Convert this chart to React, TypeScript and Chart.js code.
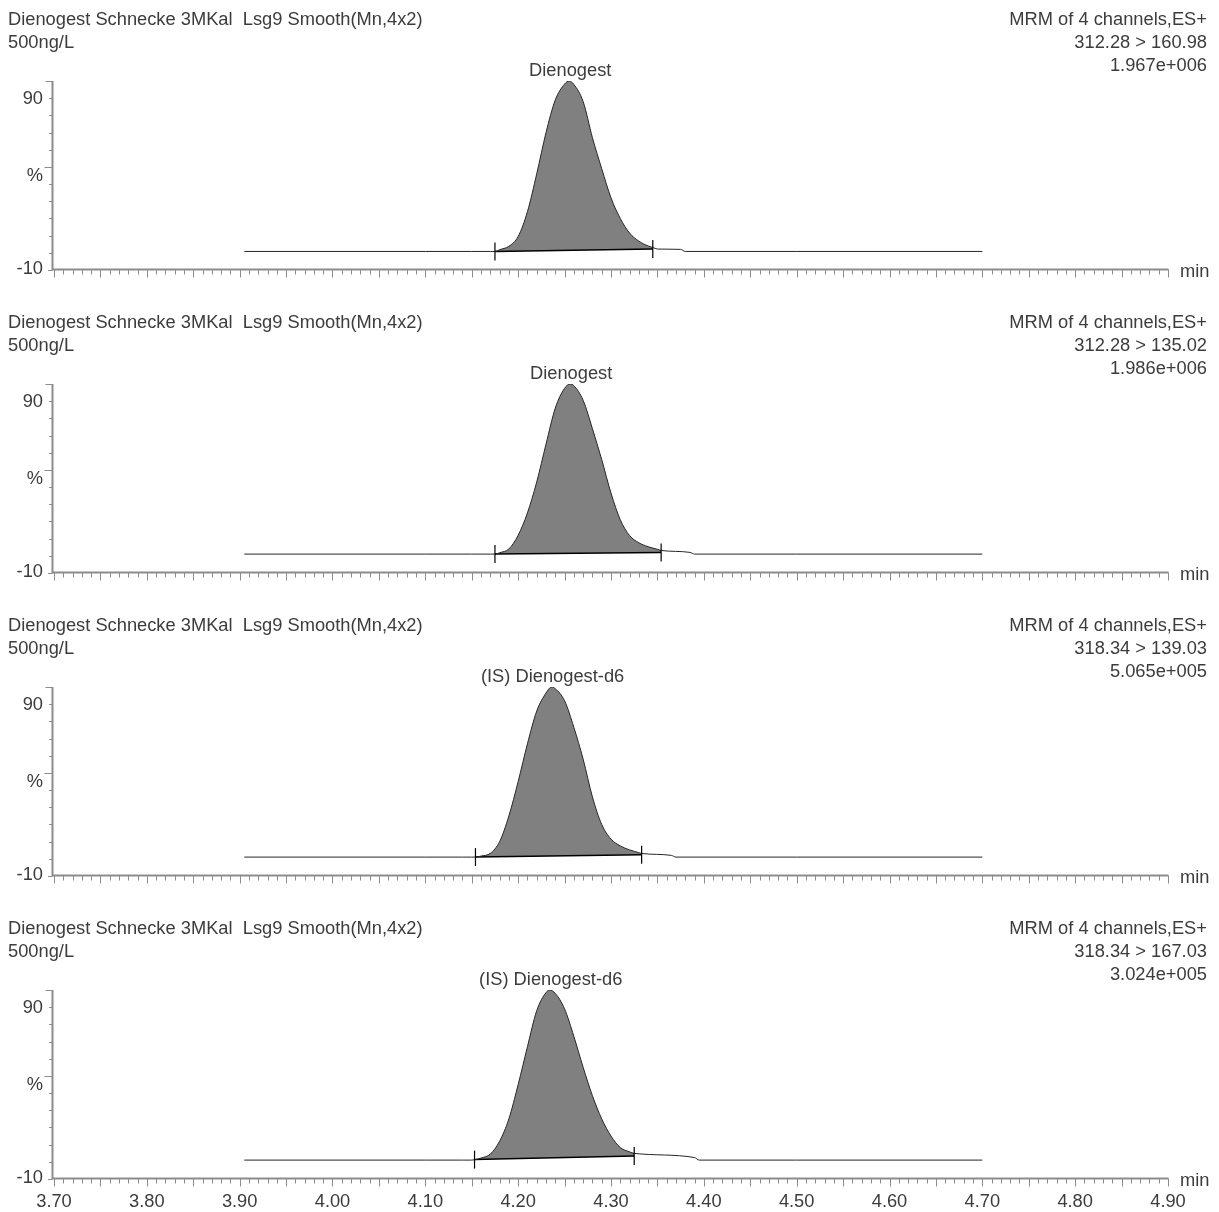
import React, { useEffect, useRef } from 'react';
import { Chart, registerables } from 'chart.js';

Chart.register(...registerables);

// ---------- data ----------
const TIME_MIN = 3.7;
const TIME_MAX = 4.9;
const Y_MIN = -10;
const Y_MAX = 100;

const xTickLabels = ['3.70', '3.80', '3.90', '4.00', '4.10', '4.20', '4.30', '4.40', '4.50', '4.60', '4.70', '4.80', '4.90'];
const yTickLabels = ['-10', '%', '90'];
const xUnitLabel = 'min';

const sampleLine1 = 'Dienogest Schnecke 3MKal  Lsg9 Smooth(Mn,4x2)';
const sampleLine2 = '500ng/L';
const channelTitle = 'MRM of 4 channels,ES+';
const transitions = ['312.28 > 160.98', '312.28 > 135.02', '318.34 > 139.03', '318.34 > 167.03'];
const intensities = ['1.967e+006', '1.986e+006', '5.065e+005', '3.024e+005'];
const peakNames = ['Dienogest', 'Dienogest', '(IS) Dienogest-d6', '(IS) Dienogest-d6'];

// retention time (min) / relative intensity (%)
const times1 = [3.905, 4.10, 4.15, 4.16, 4.17, 4.175, 4.18, 4.19, 4.20, 4.21, 4.22, 4.23, 4.24, 4.25, 4.255, 4.26, 4.27, 4.28, 4.29, 4.30, 4.31, 4.32, 4.33, 4.34, 4.345, 4.35, 4.375, 4.38, 4.50, 4.70];
const values1 = [0.8, 0.8, 0.8, 0.8, 0.8, 0.8, 1.8, 3.8, 9.5, 24, 46, 70, 89, 98.2, 100, 98, 88, 67, 49, 32, 20, 11.5, 6.8, 4.0, 3.1, 2.2, 2.0, 0.8, 0.8, 0.8];

const times2 = [3.905, 4.10, 4.15, 4.16, 4.17, 4.175, 4.18, 4.19, 4.20, 4.21, 4.22, 4.23, 4.24, 4.25, 4.256, 4.26, 4.27, 4.28, 4.29, 4.30, 4.31, 4.32, 4.33, 4.34, 4.35, 4.354, 4.385, 4.39, 4.50, 4.70];
const values2 = [1.0, 1.0, 1.0, 1.0, 1.0, 1.0, 1.8, 4.0, 12, 25, 43, 65, 86, 97.5, 100, 99, 90.5, 74, 56, 36.5, 21, 11.8, 7.6, 5.3, 3.8, 3.1, 2.0, 1.0, 1.0, 1.0];

const times3 = [3.905, 4.10, 4.14, 4.15, 4.154, 4.16, 4.17, 4.18, 4.19, 4.20, 4.21, 4.22, 4.23, 4.236, 4.24, 4.25, 4.26, 4.27, 4.28, 4.29, 4.30, 4.31, 4.32, 4.33, 4.333, 4.365, 4.37, 4.50, 4.70];
const values3 = [1.0, 1.0, 1.0, 1.0, 1.0, 1.6, 3.2, 10, 25, 45, 67, 86, 96.5, 100, 99, 92, 76.5, 58, 36, 20, 11.5, 7.5, 5.2, 3.6, 3.1, 2.0, 1.0, 1.0, 1.0];

const times4 = [3.905, 4.10, 4.14, 4.15, 4.153, 4.16, 4.17, 4.18, 4.19, 4.20, 4.21, 4.22, 4.23, 4.234, 4.24, 4.25, 4.26, 4.27, 4.28, 4.29, 4.30, 4.31, 4.32, 4.325, 4.39, 4.395, 4.50, 4.70];
const values4 = [1.0, 1.0, 1.0, 1.0, 1.2, 2.2, 4.5, 12, 25, 45, 67, 88, 98.5, 100, 98, 89, 73, 55, 38.5, 25, 15, 8.3, 5.8, 4.9, 2.5, 1.0, 1.0, 1.0];

// integration window (min) and integration-baseline levels (%)
const peakStart = [4.175, 4.175, 4.154, 4.153];
const peakEnd = [4.345, 4.354, 4.333, 4.325];
const baseStartLevel = [0.8, 1.0, 1.0, 1.3];
const baseEndLevel = [2.2, 2.0, 2.4, 3.4];

const TIMES = [times1, times2, times3, times4];
const VALUES = [values1, values2, values3, values4];

// ---------- styling ----------
const W = 1219;
const PANEL_H = 303;
const FONT = '18.3px "Liberation Sans", Arial, sans-serif';
const TEXT_COLOR = '#3c3c3c';
const AXIS_COLOR = '#8c8c8c';

const axesPlugin = {
  id: 'msAxes',
  afterDraw(chart: any, _args: any, opts: any) {
    const { ctx, chartArea, scales } = chart;
    const x = scales.x;
    const y = scales.y;
    const x0 = chartArea.left - 1.5;
    const yb = chartArea.bottom - 0.5;
    ctx.save();
    // axis lines
    ctx.strokeStyle = AXIS_COLOR;
    ctx.lineWidth = 2;
    ctx.beginPath();
    ctx.moveTo(x0, y.getPixelForValue(Y_MAX));
    ctx.lineTo(x0, yb + 1);
    ctx.moveTo(x0 - 1, yb);
    ctx.lineTo(chartArea.right + 0.5, yb);
    ctx.stroke();
    // x ticks
    ctx.lineWidth = 1;
    ctx.beginPath();
    const nx = Math.round((TIME_MAX - TIME_MIN) / 0.01);
    for (let i = 0; i <= nx; i++) {
      const v = TIME_MIN + i * 0.01;
      const px = Math.round(x.getPixelForValue(v)) + 0.5;
      const len = i % 5 === 0 ? 8 : 5;
      ctx.moveTo(px, yb);
      ctx.lineTo(px, yb + len);
    }
    // y ticks
    for (let v = Y_MIN; v <= Y_MAX; v += 10) {
      const py = Math.round(y.getPixelForValue(v)) + 0.5;
      const len = v === 100 ? 7 : v === 50 ? 8 : v === -10 ? 4.5 : 3.5;
      ctx.moveTo(x0, py);
      ctx.lineTo(x0 - len, py);
    }
    ctx.stroke();

    ctx.fillStyle = TEXT_COLOR;
    ctx.font = FONT;
    // y labels
    ctx.textAlign = 'right';
    ctx.textBaseline = 'middle';
    ctx.fillText(yTickLabels[0], 43, y.getPixelForValue(-10) - 1.5);
    ctx.fillText(yTickLabels[1], 43, y.getPixelForValue(45));
    ctx.fillText(yTickLabels[2], 43, y.getPixelForValue(90) + 1);
    // unit
    ctx.textAlign = 'left';
    ctx.textBaseline = 'alphabetic';
    ctx.fillText(xUnitLabel, chartArea.right + 12, yb + 7);
    // x tick labels (bottom panel only)
    if (opts.showLabels) {
      ctx.textAlign = 'center';
      xTickLabels.forEach((lab) => {
        ctx.fillText(lab, x.getPixelForValue(parseFloat(lab)), yb + 28);
      });
    }
    // peak label at apex
    const ds = chart.data.datasets[0].data;
    let best = ds[0];
    ds.forEach((p: any) => { if (p.y > best.y) best = p; });
    ctx.textAlign = 'center';
    ctx.fillText(opts.peakName, x.getPixelForValue(best.x) + 1, chartArea.top - 5);
    ctx.restore();
  },
};

function Panel({ idx }: { idx: number }) {
  const ref = useRef<HTMLCanvasElement | null>(null);
  useEffect(() => {
    const t = TIMES[idx];
    const v = VALUES[idx];
    const trace = t.map((tt, i) => ({ x: tt, y: v[i] }));
    const s = t.indexOf(peakStart[idx]);
    const e = t.indexOf(peakEnd[idx]);
    const area = trace.slice(s, e + 1);
    const base = [
      { x: peakStart[idx], y: baseStartLevel[idx] },
      { x: peakEnd[idx], y: baseEndLevel[idx] },
    ];
    const chart = new Chart(ref.current as HTMLCanvasElement, {
      type: 'line',
      data: {
        datasets: [
          {
            label: 'trace', data: trace, borderColor: '#262626', borderWidth: 1,
            pointRadius: 0, fill: false, cubicInterpolationMode: 'monotone', order: 1,
          },
          {
            label: 'area', data: area, borderColor: 'rgba(0,0,0,0)', borderWidth: 0,
            backgroundColor: '#808080', pointRadius: 0, fill: '+1',
            cubicInterpolationMode: 'monotone', order: 3,
          },
          {
            label: 'integration', data: base, borderColor: '#000000', borderWidth: 1.5,
            pointRadius: 0, fill: false, order: 2,
          },
          {
            label: 'markers', data: base, showLine: false, borderColor: '#000000',
            backgroundColor: '#000000', pointStyle: 'line', pointRotation: 90, pointRadius: 9,
            pointBorderColor: '#000000', pointBorderWidth: 1.2, order: 0,
          },
        ] as any,
      },
      options: {
        responsive: false,
        animation: false,
        events: [],
        layout: { padding: { left: 54, right: W - 1168, top: 81, bottom: 33 } },
        scales: {
          x: { type: 'linear', min: TIME_MIN, max: TIME_MAX, display: false },
          y: { type: 'linear', min: Y_MIN, max: Y_MAX, display: false },
        },
        plugins: {
          legend: { display: false },
          tooltip: { enabled: false },
          colors: { enabled: false },
          msAxes: { showLabels: idx === 3, peakName: peakNames[idx] },
        } as any,
      },
      plugins: [axesPlugin],
    });
    return () => chart.destroy();
  }, [idx]);

  const textStyle: React.CSSProperties = {
    position: 'absolute', top: 7, font: FONT, lineHeight: '23px',
    color: TEXT_COLOR, whiteSpace: 'pre', margin: 0,
  };
  return (
    <div style={{ position: 'absolute', left: 0, top: idx * PANEL_H, width: W, height: PANEL_H }}>
      <canvas ref={ref} width={W} height={PANEL_H} style={{ display: 'block', position: 'absolute', left: 0, top: 0 }} />
      <div style={{ ...textStyle, left: 8 }}>
        <div>{sampleLine1}</div>
        <div>{sampleLine2}</div>
      </div>
      <div style={{ ...textStyle, right: 12, textAlign: 'right' }}>
        <div>{channelTitle}</div>
        <div>{transitions[idx]}</div>
        <div>{intensities[idx]}</div>
      </div>
    </div>
  );
}

export default function App() {
  return (
    <div style={{ position: 'fixed', left: 0, top: 0, width: W, height: 4 * PANEL_H, background: '#ffffff', overflow: 'hidden' }}>
      {[0, 1, 2, 3].map((i) => (
        <Panel key={i} idx={i} />
      ))}
    </div>
  );
}
